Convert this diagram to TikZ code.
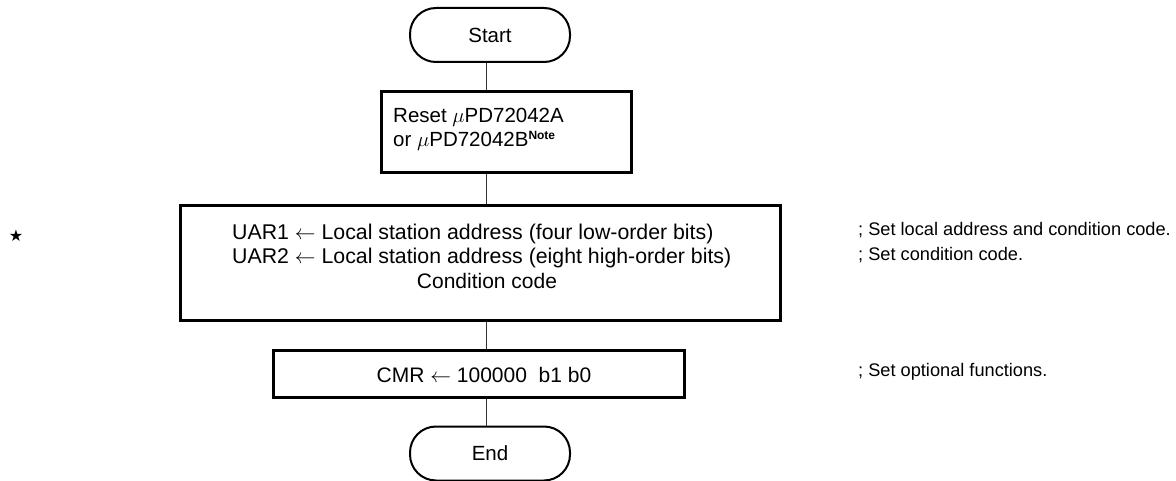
\documentclass[tikz,border=0pt]{standalone}
\usepackage{fontspec}
\setmainfont{Liberation Sans}
\newfontfamily\symfont{DejaVu Sans}
\begin{document}
\begin{tikzpicture}[x=1pt,y=-1pt,
  txt/.style={font=\fontsize{20.5}{24.5}\selectfont},
  btxt/.style={font=\fontsize{21.3}{24}\selectfont},
  ctxt/.style={font=\fontsize{18.2}{22}\selectfont},
  term/.style={draw,line width=2pt,rounded corners=26pt,minimum width=160pt,minimum height=54pt,inner sep=0pt,txt},
  procbox/.style={draw,line width=3pt,inner sep=0pt},
  conn/.style={draw,line width=0.8pt,black!80},
  comment/.style={anchor=west,inner sep=0pt,ctxt}]
\useasboundingbox (0,0) rectangle (1176,481);
\node[term] (start) at (490,35) {Start};
\node[procbox,minimum width=250pt,minimum height=81pt] (reset) at (506,132.5) {};
\node[anchor=west,inner sep=0pt,txt,align=left] (resettxt) at (393,129.5) {Reset $\mu$PD72042A\\or $\mu$PD72042B\textsuperscript{\bfseries\fontsize{12}{12}\selectfont Note}};
\node[procbox,minimum width=600pt,minimum height=115pt] (uar) at (480,263) {};
\node[btxt,anchor=west,inner sep=0pt] (uar1) at (232,234) {UAR1 $\leftarrow$ Local station address (four low-order bits)};
\node[btxt,anchor=west,inner sep=0pt] (uar2) at (232,257.5) {UAR2 $\leftarrow$ Local station address (eight high-order bits)};
\node[btxt,font=\fontsize{21}{24}\selectfont,inner sep=0pt] (cond) at (487,281) {Condition code};
\node[procbox,minimum width=411pt,minimum height=47pt] (cmr) at (478.5,373.5) {};
\node[btxt,font=\fontsize{21}{24}\selectfont,inner sep=0pt] (cmrtxt) at (484,375) {CMR $\leftarrow$ 100000\ \ b1 b0};
\node[term] (end) at (490,453.5) {End};
\node[inner sep=0pt,font=\symfont\fontsize{16}{16}\selectfont] (star) at (16,236) {★};
\node[comment] (c1) at (858,230) {; Set local address and condition code.};
\node[comment] (c2) at (858,255) {; Set condition code.};
\node[comment] (c3) at (858,372) {; Set optional functions.};
\coordinate (x1) at (486,0);
\draw[conn] (start.south -| x1) -- (reset.north -| x1);
\draw[conn] (reset.south -| x1) -- (uar.north -| x1);
\draw[conn] (uar.south -| x1) -- (cmr.north -| x1);
\draw[conn] (cmr.south -| x1) -- (end.north -| x1);
\end{tikzpicture}
\end{document}
